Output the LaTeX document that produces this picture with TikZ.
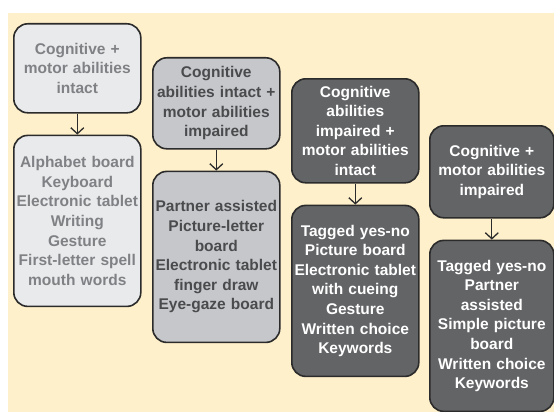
\documentclass[tikz,border=0pt]{standalone}
\usepackage{fontspec}
\setmainfont{Liberation Sans}
\usetikzlibrary{arrows.meta, positioning}
\definecolor{cream}{HTML}{FEF0CA}
\definecolor{boxline}{HTML}{2B2B2B}
\definecolor{lightfill}{HTML}{E9EAEC}
\definecolor{lighttext}{HTML}{808184}
\definecolor{midfill}{HTML}{C6C7CA}
\definecolor{midtext}{HTML}{4A4B4D}
\definecolor{darkfill}{HTML}{636466}
\tikzset{
    stage/.style = {
      draw=boxline, line width=1.6pt, rounded corners=14pt,
      minimum width=127pt, text width=122pt, align=center, inner sep=1pt,
      font=\bfseries\fontsize{15.5}{19.6}\selectfont,
    },
    light/.style = {stage, fill=lightfill, text=lighttext},
    mid/.style = {stage, fill=midfill, text=midtext},
    dark/.style = {stage, fill=darkfill, text=white},
    aids/.style = {minimum height=171pt, below=21pt of #1},
    link/.style = {line width=1.3pt, boxline, arrows={-Straight Barb[length=6pt, width=13pt]}},
}
\begin{document}
\begin{tikzpicture}[x=1pt, y=-1pt]
    %% Canvas and cream panel
    \useasboundingbox (0,0) rectangle (554,412);
    \fill [cream] (8,13) rectangle (554,412);

    %% Column 1: both intact
    \node [light, minimum height=89pt, anchor=north west] (both_intact) at (13,23)
          {Cognitive +\\motor abilities\\intact};
    \node [light, aids=both_intact] (both_intact_aids)
          {Alphabet board\\Keyboard\\Electronic tablet\\Writing\\Gesture\\First-letter spell\\mouth words};

    %% Column 2: motor impaired
    \node [mid, minimum height=91pt, anchor=north west] (motor_impaired) at (152,57)
          {Cognitive\\abilities intact +\\motor abilities\\impaired};
    \node [mid, aids=motor_impaired] (motor_impaired_aids)
          {Partner assisted\\Picture-letter\\board\\Electronic tablet\\finger draw\\Eye-gaze board};

    %% Column 3: cognition impaired
    \node [dark, minimum height=104pt, anchor=north west] (cog_impaired) at (291,78)
          {Cognitive\\abilities\\impaired +\\motor abilities\\intact};
    \node [dark, aids=cog_impaired] (cog_impaired_aids)
          {Tagged yes-no\\Picture board\\Electronic tablet\\with cueing\\Gesture\\Written choice\\Keywords};

    %% Column 4: both impaired
    \node [dark, minimum height=92pt, minimum width=124pt, anchor=north west] (both_impaired) at (429,125)
          {Cognitive +\\motor abilities\\impaired};
    \node [dark, minimum width=124pt, aids=both_impaired] (both_impaired_aids)
          {Tagged yes-no\\Partner\\assisted\\Simple picture\\board\\Written choice\\Keywords};

    %% Links from each condition to its aids
    \draw [link] (both_intact) -- (both_intact_aids);
    \draw [link] (motor_impaired) -- (motor_impaired_aids);
    \draw [link] (cog_impaired) -- (cog_impaired_aids);
    \draw [link] (both_impaired) -- (both_impaired_aids);
\end{tikzpicture}
\end{document}
